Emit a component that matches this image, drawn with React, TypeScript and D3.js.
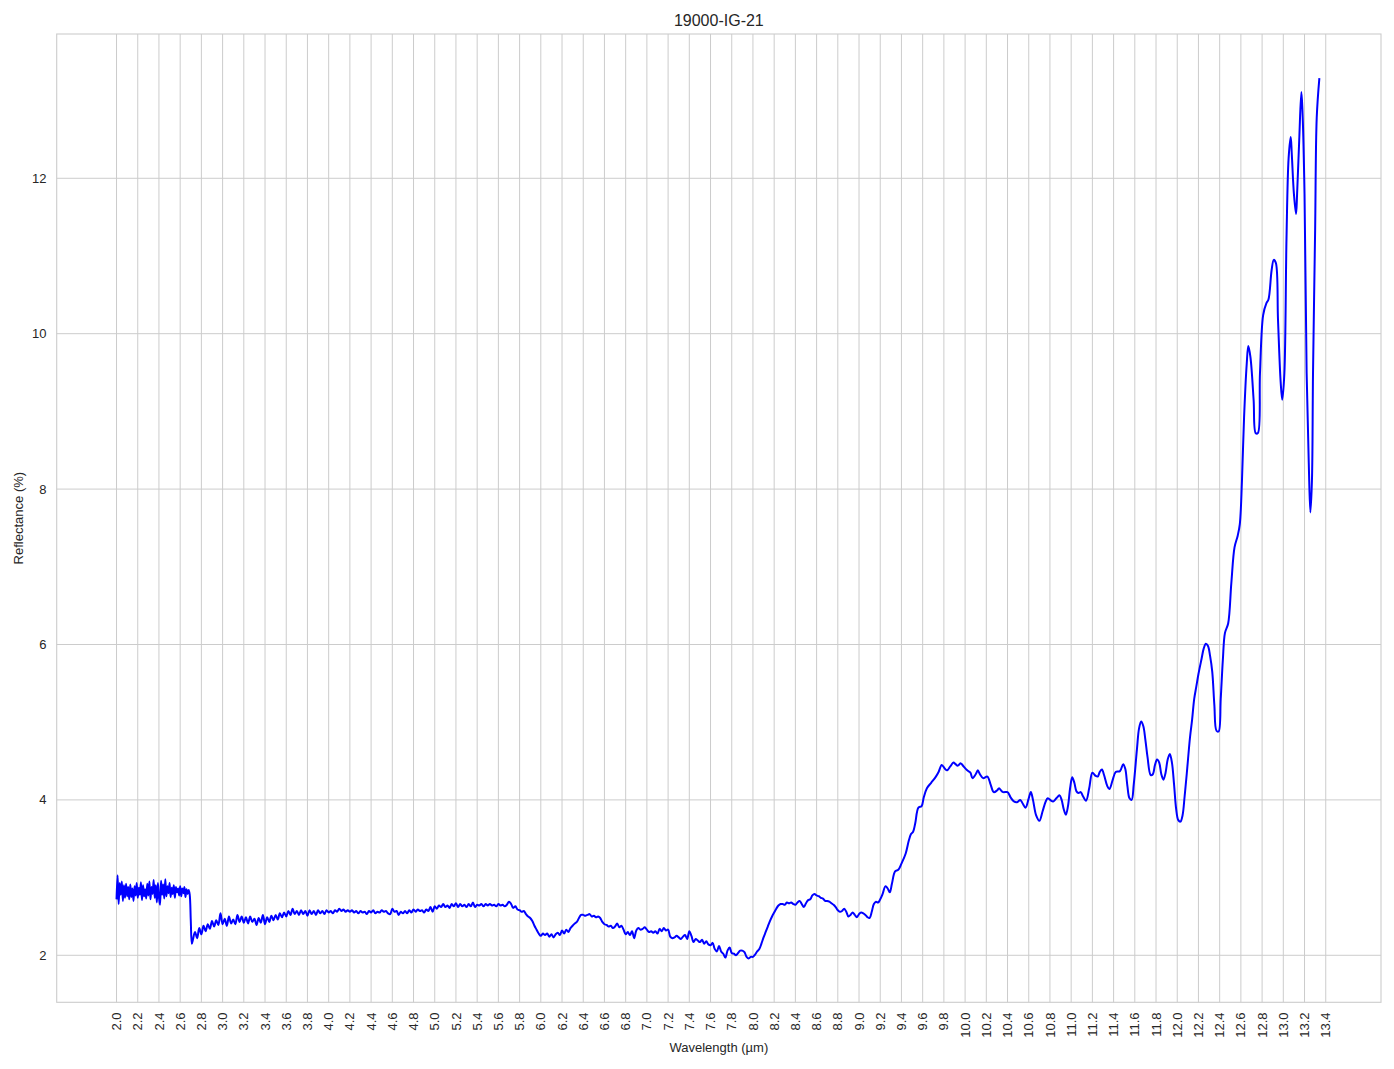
import React from "react";
import * as d3 from "d3";

// ---------- data ----------
const TITLE = "19000-IG-21";
const X_LABEL = "Wavelength (µm)";
const Y_LABEL = "Reflectance (%)";

const xTickValues = [
  2.0, 2.2, 2.4, 2.6, 2.8, 3.0, 3.2, 3.4, 3.6, 3.8, 4.0, 4.2, 4.4, 4.6, 4.8, 5.0, 5.2, 5.4, 5.6, 5.8,
  6.0, 6.2, 6.4, 6.6, 6.8, 7.0, 7.2, 7.4, 7.6, 7.8, 8.0, 8.2, 8.4, 8.6, 8.8, 9.0, 9.2, 9.4, 9.6, 9.8,
  10.0, 10.2, 10.4, 10.6, 10.8, 11.0, 11.2, 11.4, 11.6, 11.8, 12.0, 12.2, 12.4, 12.6, 12.8, 13.0, 13.2, 13.4,
];
const yTickValues = [2, 4, 6, 8, 10, 12];

// Segment A: 2.00 .. 2.71 µm, sampled every 0.01 µm
const segAStart = 2.0;
const segAStep = 0.01;
const segAValues = [
  2.72, 3.03, 2.66, 2.93, 2.78, 2.95, 2.70, 2.90, 2.74, 2.92,
  2.76, 2.88, 2.72, 2.91, 2.75, 2.86, 2.70, 2.89, 2.77, 2.93,
  2.74, 2.87, 2.78, 2.94, 2.71, 2.90, 2.76, 2.85, 2.73, 2.92,
  2.77, 2.95, 2.72, 2.88, 2.79, 2.97, 2.74, 2.90, 2.68, 2.93,
  2.75, 2.65, 2.96, 2.78, 2.91, 2.73, 2.98, 2.76, 2.89, 2.80,
  2.93, 2.75, 2.87, 2.79, 2.90, 2.74, 2.88, 2.81, 2.86, 2.77,
  2.89, 2.76, 2.86, 2.80, 2.88, 2.75, 2.85, 2.79, 2.84, 2.78,
  2.45, 2.15,
];

// Segment B: 2.72 .. 4.20 µm, every 0.02 µm
const segBStart = 2.72;
const segBStep = 0.02;
const segBValues = [
  2.20, 2.30, 2.22, 2.35, 2.27, 2.38, 2.31, 2.40, 2.34, 2.44,
  2.37, 2.45, 2.39, 2.54, 2.40, 2.47, 2.38, 2.50, 2.41, 2.46,
  2.40, 2.52, 2.43, 2.50, 2.42, 2.49, 2.41, 2.50, 2.43, 2.47,
  2.39, 2.48, 2.42, 2.52, 2.40, 2.49, 2.43, 2.51, 2.45, 2.52,
  2.46, 2.54, 2.49, 2.55, 2.50, 2.57, 2.52, 2.60, 2.53, 2.57,
  2.52, 2.58, 2.53, 2.57, 2.51, 2.58, 2.53, 2.57, 2.52, 2.58,
  2.54, 2.57, 2.53, 2.58, 2.55, 2.57, 2.54, 2.58, 2.56, 2.60,
  2.57, 2.59, 2.56, 2.58, 2.56,
];

// Segment C: 4.22 .. 5.80 µm, every 0.02 µm
const segCStart = 4.22;
const segCStep = 0.02;
const segCValues = [
  2.58, 2.55, 2.57, 2.54, 2.57, 2.55, 2.56, 2.53, 2.57, 2.55,
  2.58, 2.54, 2.56, 2.55, 2.58, 2.56, 2.57, 2.54, 2.53, 2.60,
  2.56, 2.57, 2.52, 2.56, 2.54, 2.57, 2.54, 2.58, 2.55, 2.59,
  2.56, 2.59, 2.57, 2.58, 2.55, 2.59, 2.57, 2.62, 2.56, 2.63,
  2.60, 2.64, 2.62, 2.66, 2.62, 2.64, 2.61, 2.66, 2.63, 2.67,
  2.62, 2.66, 2.63, 2.65, 2.62, 2.66, 2.63, 2.68, 2.62, 2.65,
  2.64, 2.66, 2.63, 2.66, 2.64, 2.66, 2.64, 2.65, 2.63, 2.66,
  2.64, 2.65, 2.63, 2.65, 2.69, 2.66, 2.61, 2.63, 2.59, 2.58,
];

// Segment D: 5.82 .. 8.20 µm, every 0.02 µm
const segDStart = 5.82;
const segDStep = 0.02;
const segDValues = [
  2.56, 2.57, 2.53, 2.50, 2.48, 2.44, 2.38, 2.33, 2.28, 2.25,
  2.28, 2.26, 2.28, 2.24, 2.27, 2.23, 2.27, 2.29, 2.26, 2.32,
  2.28, 2.33, 2.30, 2.35, 2.38, 2.41, 2.43, 2.48, 2.52, 2.52,
  2.51, 2.52, 2.53, 2.50, 2.51, 2.49, 2.50, 2.48, 2.43, 2.40,
  2.39, 2.37, 2.38, 2.35, 2.37, 2.41, 2.36, 2.38, 2.33, 2.27,
  2.30, 2.26, 2.31, 2.22, 2.32, 2.35, 2.33, 2.34, 2.36, 2.33,
  2.30, 2.31, 2.29, 2.31, 2.28, 2.34, 2.31, 2.35, 2.32, 2.33,
  2.24, 2.22, 2.23, 2.25, 2.23, 2.21, 2.24, 2.26, 2.21, 2.31,
  2.25, 2.17, 2.21, 2.19, 2.17, 2.20, 2.15, 2.18, 2.14, 2.13,
  2.16, 2.08, 2.05, 2.12, 2.05, 2.02, 1.97, 2.06, 2.10, 2.03,
  2.02, 2.00, 2.03, 2.06, 2.06, 2.04, 1.98, 1.96, 1.98, 1.98,
  2.01, 2.05, 2.08, 2.15, 2.23, 2.30, 2.37, 2.44, 2.50, 2.55,
];

// Segment E: 8.22 .. 9.20 µm, every 0.02 µm
const segEStart = 8.22;
const segEStep = 0.02;
const segEValues = [
  2.60, 2.64, 2.66, 2.66, 2.65, 2.68, 2.67, 2.68, 2.66, 2.65,
  2.68, 2.70, 2.66, 2.62, 2.67, 2.71, 2.72, 2.77, 2.79, 2.77,
  2.76, 2.74, 2.73, 2.70, 2.70, 2.69, 2.67, 2.65, 2.62, 2.58,
  2.56, 2.57, 2.60, 2.56, 2.50, 2.52, 2.55, 2.52, 2.49, 2.53,
  2.55, 2.54, 2.52, 2.49, 2.48, 2.56, 2.66, 2.69, 2.68, 2.72,
];

// Segment F: 9.22 .. 13.34 µm (smooth long-wave part)
const segFWavelengths = [
  9.22, 9.25, 9.27, 9.29, 9.31, 9.34, 9.37, 9.40, 9.44, 9.47, 9.49, 9.51, 9.53, 9.56, 9.59, 9.61, 9.64, 9.68,
  9.72, 9.75, 9.78, 9.81, 9.83, 9.86, 9.89, 9.91, 9.93, 9.96, 9.98, 10.02, 10.05, 10.07, 10.10, 10.12, 10.14,
  10.17, 10.21, 10.24, 10.27, 10.30, 10.32, 10.34, 10.36, 10.40, 10.43, 10.46, 10.49, 10.52, 10.54, 10.57,
  10.60, 10.62, 10.64, 10.67, 10.70, 10.73, 10.76, 10.78, 10.81, 10.83, 10.86, 10.89, 10.91, 10.93, 10.95,
  10.97, 10.99, 11.01, 11.03, 11.05, 11.07, 11.09, 11.11, 11.14, 11.17, 11.20, 11.23, 11.25, 11.27, 11.29,
  11.31, 11.34, 11.36, 11.39, 11.42, 11.46, 11.49, 11.51, 11.53, 11.55, 11.57, 11.59, 11.62, 11.64, 11.66,
  11.68, 11.70, 11.72, 11.75, 11.77, 11.79, 11.81, 11.83, 11.85, 11.87, 11.89, 11.91, 11.93, 11.95, 11.97,
  11.99, 12.01, 12.03, 12.05, 12.07, 12.09, 12.12, 12.14, 12.16, 12.18, 12.20, 12.23, 12.25, 12.27, 12.29,
  12.31, 12.33, 12.35, 12.37, 12.39, 12.41, 12.43, 12.45, 12.48, 12.51, 12.54, 12.57, 12.59, 12.61, 12.63,
  12.655, 12.67, 12.69, 12.72, 12.74, 12.76, 12.78, 12.81, 12.84, 12.86, 12.89, 12.91, 12.93, 12.95, 12.975,
  12.99, 13.01, 13.03, 13.05, 13.07, 13.08, 13.10, 13.12, 13.13, 13.15, 13.17, 13.18, 13.20, 13.22, 13.24,
  13.255, 13.27, 13.28, 13.30, 13.315, 13.34,
];
const segFValues = [
  2.78, 2.89, 2.86, 2.81, 2.92, 3.08, 3.10, 3.18, 3.31, 3.48, 3.56, 3.59, 3.70, 3.90, 3.92, 4.03, 4.15, 4.22,
  4.29, 4.36, 4.45, 4.40, 4.38, 4.43, 4.48, 4.46, 4.44, 4.47, 4.44, 4.38, 4.35, 4.28, 4.33, 4.38, 4.33,
  4.28, 4.30, 4.20, 4.10, 4.12, 4.15, 4.12, 4.10, 4.10, 4.03, 3.98, 3.97, 4.00, 3.96, 3.90,
  4.02, 4.10, 4.00, 3.80, 3.73, 3.85, 3.98, 4.02, 3.99, 3.98, 4.02, 4.06, 4.00, 3.88, 3.81,
  3.92, 4.15, 4.29, 4.22, 4.11, 4.09, 4.10, 4.05, 3.99, 4.15, 4.35, 4.31, 4.30, 4.36, 4.39,
  4.32, 4.18, 4.14, 4.25, 4.36, 4.37, 4.46, 4.40, 4.18, 4.02, 4.00, 4.20, 4.65, 4.92, 5.01,
  4.95, 4.77, 4.55, 4.32, 4.33, 4.45, 4.52, 4.48, 4.33, 4.26, 4.35, 4.52, 4.59, 4.48, 4.20,
  3.88, 3.74, 3.72, 3.80, 4.05, 4.34, 4.80, 5.03, 5.30, 5.46, 5.62, 5.82, 5.95, 6.01, 5.98,
  5.85, 5.65, 5.22, 4.89, 4.88, 5.30, 5.80, 6.15, 6.27, 6.79, 7.25, 7.40, 7.55, 8.10, 8.92,
  9.61, 9.84, 9.70, 9.15, 8.72, 8.72, 9.49, 10.24, 10.39, 10.44, 10.82, 10.95, 10.91, 10.18, 9.38,
  9.15, 9.49, 11.22, 12.26, 12.53, 12.31, 11.80, 11.54, 11.80, 12.49, 13.11, 12.89, 11.80, 9.49, 8.34,
  7.70, 8.11, 9.49, 11.33, 12.78, 13.29,
];

// ---------- assemble ----------
type Pt = { w: number; r: number };
function stepped(start: number, step: number, vals: number[]): Pt[] {
  return vals.map((r, i) => ({ w: start + i * step, r }));
}
const spectrum: Pt[] = [
  ...stepped(segAStart, segAStep, segAValues),
  ...stepped(segBStart, segBStep, segBValues),
  ...stepped(segCStart, segCStep, segCValues),
  ...stepped(segDStart, segDStep, segDValues),
  ...stepped(segEStart, segEStep, segEValues),
  ...segFWavelengths.map((w, i) => ({ w, r: segFValues[i] })),
];

// ---------- layout ----------
const W = 1394;
const H = 1069;
const L = 56.7;
const R = 1381;
const T = 34;
const B = 1002.3;
const FONT = '"Liberation Sans", Arial, "DejaVu Sans", sans-serif';
const TEXT = "#262626";
const GRID = "#cccccc";

export default function App() {
  const x = d3.scaleLinear().domain([1.436, 13.921]).range([L, R]);
  const y = d3.scaleLinear().domain([1.395, 13.857]).range([B, T]);

  const line = d3
    .line<Pt>()
    .x((d) => x(d.w))
    .y((d) => y(d.r))
    .curve(d3.curveCatmullRom.alpha(0.5));

  return (
    <svg
      width={W}
      height={H}
      viewBox={`0 0 ${W} ${H}`}
      style={{ position: "absolute", left: 0, top: 0, background: "#ffffff" }}
    >
      <rect x={0} y={0} width={W} height={H} fill="#ffffff" />
      {/* grid */}
      <g>
        {xTickValues.map((t) => (
          <line key={"gx" + t} x1={x(t)} x2={x(t)} y1={T} y2={B} stroke={GRID} strokeWidth={1} />
        ))}
        {yTickValues.map((t) => (
          <line key={"gy" + t} x1={L} x2={R} y1={y(t)} y2={y(t)} stroke={GRID} strokeWidth={1} />
        ))}
      </g>
      {/* data line */}
      <path d={line(spectrum) || ""} fill="none" stroke="#0000ff" strokeWidth={2} strokeLinejoin="round" />
      {/* frame */}
      <rect x={L} y={T} width={R - L} height={B - T} fill="none" stroke={GRID} strokeWidth={1.1} />
      {/* x tick labels */}
      <g fontFamily={FONT} fontSize={13} fill={TEXT}>
        {xTickValues.map((t) => (
          <text
            key={"tx" + t}
            transform={`translate(${x(t)},${1012.5}) rotate(-90)`}
            textAnchor="end"
            dy="0.35em"
          >
            {t.toFixed(1)}
          </text>
        ))}
        {yTickValues.map((t) => (
          <text key={"ty" + t} x={46.5} y={y(t)} textAnchor="end" dy="0.35em">
            {String(t)}
          </text>
        ))}
      </g>
      {/* axis labels */}
      <text
        x={(L + R) / 2}
        y={1052}
        textAnchor="middle"
        fontFamily={FONT}
        fontSize={13}
        fill={TEXT}
      >
        {X_LABEL}
      </text>
      <text
        transform={`translate(23,${(T + B) / 2}) rotate(-90)`}
        textAnchor="middle"
        fontFamily={FONT}
        fontSize={13}
        fill={TEXT}
      >
        {Y_LABEL}
      </text>
      {/* title */}
      <text
        x={(L + R) / 2}
        y={25.5}
        textAnchor="middle"
        fontFamily={FONT}
        fontSize={16}
        fill={TEXT}
      >
        {TITLE}
      </text>
    </svg>
  );
}
